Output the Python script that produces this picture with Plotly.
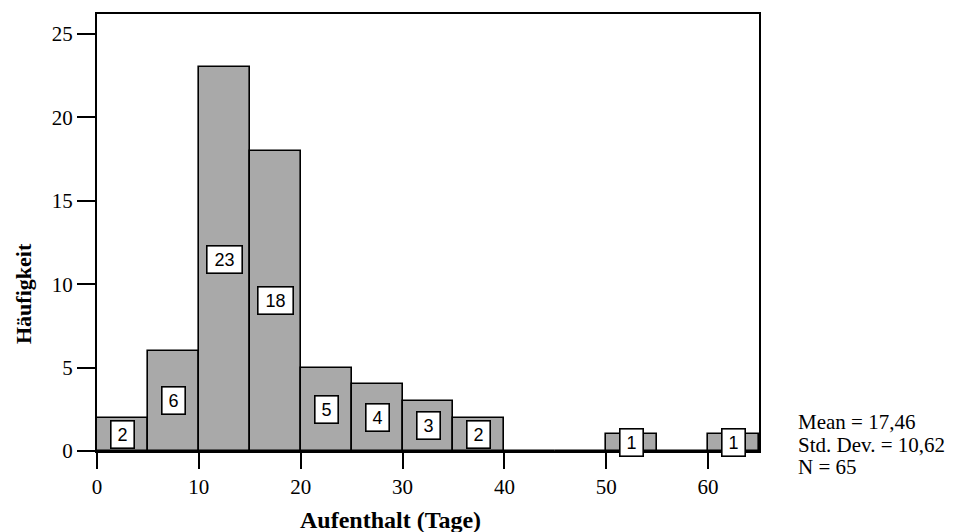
import plotly.graph_objects as go

# Histogram of length of stay, bins of 5 days
bin_left = [0, 5, 10, 15, 20, 25, 30, 35, 40, 45, 50, 55, 60]
counts = [2, 6, 23, 18, 5, 4, 3, 2, 0, 0, 1, 0, 1]
bin_width = 5

x_ticks = [0, 10, 20, 30, 40, 50, 60]
y_ticks = [0, 5, 10, 15, 20, 25]
stats_lines = ["Mean = 17,46", "Std. Dev. = 10,62", "N = 65"]

x_title = "Aufenthalt (Tage)"
y_title = "Häufigkeit"

centers = [b + bin_width / 2 for b in bin_left]

W, H = 957, 532
M_L, M_R, M_T, M_B = 97, 198, 14, 81
plot_w = W - M_L - M_R
plot_h = H - M_T - M_B

serif = "Liberation Serif, Times New Roman, serif"
sans = "Liberation Sans, Arial, sans-serif"

fig = go.Figure()
fig.add_trace(go.Bar(
    x=centers,
    y=counts,
    width=bin_width,
    marker=dict(color="#a9a9a9", line=dict(color="black", width=1.6)),
    hoverinfo="skip",
))

annotations = []
# count labels in white boxes at half bar height
for c, n in zip(centers, counts):
    if n == 0:
        continue
    txt = str(n)
    annotations.append(dict(
        x=c, y=n / 2, xref="x", yref="y",
        text=txt, showarrow=False,
        font=dict(family=sans, size=18, color="black"),
        bgcolor="white", bordercolor="black", borderwidth=1.6,
        borderpad=3, width=16 if len(txt) == 1 else 28,
        xanchor="center", yanchor="middle",
    ))

# summary statistics at the right
for i, line in enumerate(stats_lines):
    y_px = 422 + 22.5 * i
    annotations.append(dict(
        x=(796 - M_L) / plot_w, y=(H - M_B - y_px) / plot_h,
        xref="paper", yref="paper", text=line, showarrow=False,
        font=dict(family=serif, size=21, color="black"),
        xanchor="left", yanchor="middle",
    ))

# axis titles
annotations.append(dict(
    x=(390 - M_L) / plot_w, y=(H - M_B - 520) / plot_h,
    xref="paper", yref="paper", text="<b>" + x_title + "</b>",
    showarrow=False, font=dict(family=serif, size=24, color="black"),
    xanchor="center", yanchor="middle",
))
annotations.append(dict(
    x=(23 - M_L) / plot_w, y=(H - M_B - 294) / plot_h,
    xref="paper", yref="paper", text="<b>" + y_title + "</b>",
    showarrow=False, textangle=-90,
    font=dict(family=serif, size=22, color="black"),
    xanchor="center", yanchor="middle",
))

fig.update_layout(
    width=W, height=H,
    margin=dict(l=M_L, r=M_R, t=M_T, b=M_B, pad=0),
    paper_bgcolor="white", plot_bgcolor="white",
    showlegend=False, bargap=0,
    annotations=annotations,
)
fig.update_xaxes(
    range=[0, 65], tickvals=x_ticks, ticktext=[str(v) for v in x_ticks],
    ticks="outside", ticklen=16, tickwidth=1.6, tickcolor="black",
    showline=True, linecolor="black", linewidth=2, mirror=True,
    showgrid=False, zeroline=False,
    tickfont=dict(family=serif, size=21, color="black"),
)
fig.update_yaxes(
    range=[0, 26.2], tickvals=y_ticks, ticktext=[str(v) for v in y_ticks],
    ticks="outside", ticklen=18, tickwidth=1.6, tickcolor="black",
    showline=True, linecolor="black", linewidth=2, mirror=True,
    showgrid=False, zeroline=False,
    tickfont=dict(family=serif, size=21, color="black"),
)

fig.write_html("out.html")
